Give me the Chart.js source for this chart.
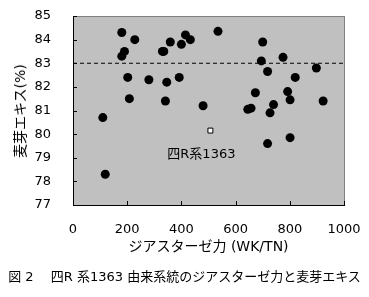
<!DOCTYPE html>
<html>
<head>
<meta charset="utf-8">
<script src="https://cdn.jsdelivr.net/npm/chart.js@4.4.1/dist/chart.umd.min.js"></script>
</head>
<body style="margin:0">
<div id="wrap" style="position:relative;width:369px;height:297px;">
  <div id="panel" style="position:absolute;box-sizing:border-box;background:#c0c0c0;border-style:solid;border-width:1px;border-color:#808080 #808080 #000 #000;"></div>
  <canvas id="maltChart" width="369" height="297" style="position:absolute;left:0;top:0;"></canvas>
  <div id="yTitle" class="txt"></div>
  <div id="xTitle" class="txt"></div>
  <div id="pointLabel" class="txt"></div>
  <div id="caption" class="txt"></div>
</div>
<script>
// diastatic power (WK/TN) vs malt extract (%)
const lineX = [110, 119, 180, 180, 190, 202, 208, 228, 280, 330, 335, 341, 346, 359, 392, 400, 415, 433, 480, 535,
               645, 657, 673, 695, 700, 718, 718, 727, 740, 775, 792, 801, 801, 820, 898, 923];
const lineY = [80.7, 78.3, 84.3, 83.3, 83.5, 82.4, 81.5, 84.0, 82.3, 83.5, 83.5, 81.4, 82.2, 83.9, 82.4, 83.8, 84.2, 84.0, 81.2, 84.35,
               81.05, 81.1, 81.75, 83.1, 83.9, 82.65, 79.6, 80.9, 81.25, 83.25, 81.8, 81.45, 79.85, 82.4, 82.8, 81.4];
const parentX = [507];
const parentY = [80.15];
const parentLabel = '四R系1363';
const refLevel = 83;
const xTicks = [0, 200, 400, 600, 800, 1000];
const yTicks = [77, 78, 79, 80, 81, 82, 83, 84, 85];
const xTitle = 'ジアスターゼ力 (WK/TN)';
const yTitle = '麦芽エキス(%)';
const caption = '図 2　 四R 系1363 由来系統のジアスターゼ力と麦芽エキス';

const xMin = xTicks[0], xMax = xTicks[xTicks.length - 1];
const yMin = yTicks[0], yMax = yTicks[yTicks.length - 1];

new Chart(document.getElementById('maltChart'), {
    type: 'scatter',
    data: {
        datasets: [
            {
                type: 'line',
                data: [{ x: xMin, y: refLevel }, { x: xMax, y: refLevel }],
                borderColor: '#000',
                borderWidth: 1,
                borderDash: [4, 3],
                pointRadius: 0
            },
            {
                data: lineX.map((x, i) => ({ x, y: lineY[i] })),
                backgroundColor: '#000',
                pointRadius: 4.5,
                borderWidth: 0
            },
            {
                data: parentX.map((x, i) => ({ x, y: parentY[i] })),
                pointStyle: 'rect',
                backgroundColor: '#fff',
                borderColor: '#000',
                borderWidth: 1,
                pointRadius: 3.5
            }
        ]
    },
    options: {
        responsive: false,
        animation: false,
        layout: { padding: { top: 16, right: 25, left: 0, bottom: 42 } },
        plugins: { legend: { display: false } },
        scales: {
            x: {
                min: xMin, max: xMax,
                afterBuildTicks: s => { s.ticks = xTicks.map(v => ({ value: v })); },
                afterFit: s => { s.height = 50; s.paddingLeft = 0; s.paddingRight = 0; },
                grid: { display: false, drawTicks: false }, border: { display: false },
                ticks: { color: '#000', padding: 17, maxRotation: 0, font: { family: 'DejaVu Sans', size: 13 }, callback: v => String(v) }
            },
            y: {
                min: yMin, max: yMax,
                afterBuildTicks: s => { s.ticks = yTicks.map(v => ({ value: v })); },
                afterFit: s => { s.width = 73; s.paddingTop = 0; s.paddingBottom = 0; },
                grid: { display: false, drawTicks: false }, border: { display: false },
                ticks: { color: '#000', padding: 22, font: { family: 'DejaVu Sans', size: 13 } }
            }
        }
    },
    plugins: [{
        id: 'dbg',
        beforeDraw(chart) {
            const { ctx, chartArea: a } = chart;
            ctx.save();
            ctx.fillStyle = '#c0c0c0';
            ctx.fillRect(a.left, a.top, a.width, a.height);
            ctx.restore();
        },
        afterDraw(chart) {
            const { ctx, chartArea: a, scales } = chart;
            ctx.save();
            ctx.lineWidth = 1;
            ctx.strokeStyle = '#808080';
            ctx.beginPath();
            ctx.moveTo(a.left, a.top + 0.5);
            ctx.lineTo(a.right + 0.5, a.top + 0.5);
            ctx.lineTo(a.right + 0.5, a.bottom);
            ctx.stroke();
            ctx.strokeStyle = '#000';
            ctx.beginPath();
            ctx.moveTo(a.left + 0.5, a.top);
            ctx.lineTo(a.left + 0.5, a.bottom + 0.5);
            ctx.lineTo(a.right + 1, a.bottom + 0.5);
            yTicks.forEach(v => {
                const y = Math.round(scales.y.getPixelForValue(v)) + 0.5;
                ctx.moveTo(a.left, y);
                ctx.lineTo(a.left + 4, y);
            });
            xTicks.forEach(v => {
                const x = Math.round(scales.x.getPixelForValue(v)) + 0.5;
                ctx.moveTo(x, a.bottom);
                ctx.lineTo(x, a.bottom - 4);
            });
            ctx.stroke();
            ctx.restore();
        }
    }]
});

// grey panel and the text blocks, placed from the chart's own scales
const chart = Chart.getChart('maltChart');
const sx = chart.scales.x, sy = chart.scales.y;
const l = sx.getPixelForValue(xMin), r = sx.getPixelForValue(xMax);
const t = sy.getPixelForValue(yMax), b = sy.getPixelForValue(yMin);
const panel = document.getElementById('panel');
Object.assign(panel.style, { left: l + 'px', top: t + 'px', width: (r - l + 1) + 'px', height: (b - t + 1) + 'px' });

function place(id, text, cx, cy, size, rotate) {
    const el = document.getElementById(id);
    el.textContent = text;
    Object.assign(el.style, {
        position: 'absolute', left: cx + 'px', top: cy + 'px', whiteSpace: 'nowrap',
        font: size + 'px "DejaVu Sans", "Noto Sans CJK JP", sans-serif', lineHeight: '1', color: '#000',
        transform: 'translate(-50%, -50%)' + (rotate ? ' rotate(-90deg)' : '')
    });
}
place('yTitle', yTitle, 20, (t + b) / 2, 14, true);
place('xTitle', xTitle, (l + r) / 2, 246, 14, false);
place('pointLabel', parentLabel, sx.getPixelForValue(parentX[0]) - 9, sy.getPixelForValue(parentY[0]) + 22, 13, false);
place('caption', caption, 184.5, 276, 13, false);
</script>
</body>
</html>
